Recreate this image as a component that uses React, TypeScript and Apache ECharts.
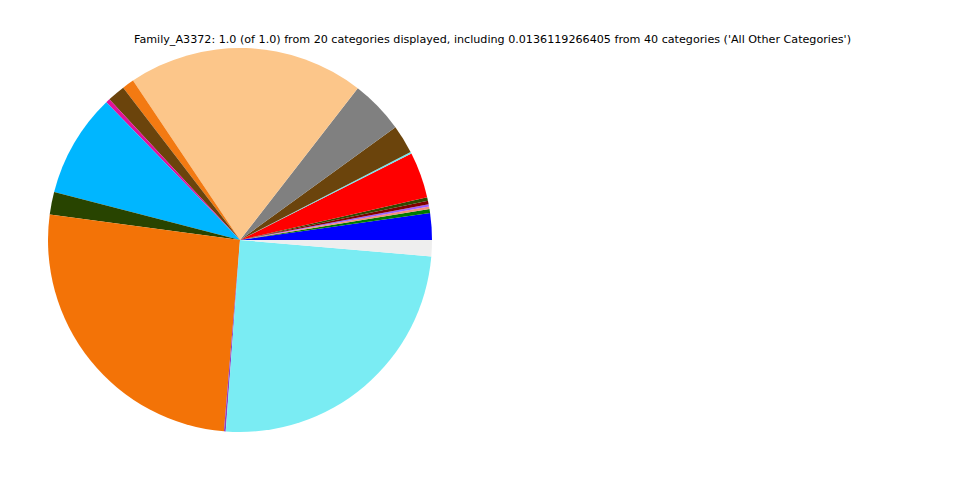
import React, { useEffect, useRef } from "react";
import * as echarts from "echarts";

const titleText =
  "Family_A3372: 1.0 (of 1.0) from 20 categories displayed, including 0.0136119266405 from 40 categories ('All Other Categories')";

const categories = [
  "Category 1", "Category 2", "Category 3", "Category 4", "Category 5",
  "Category 6", "Category 7", "Category 8", "Category 9", "Category 10",
  "Category 11", "Category 12", "Category 13", "Category 14", "Category 15",
  "Category 16", "Category 17", "Category 18", "Category 19", "All Other Categories",
];

const values = [
  0.0225, 0.0033, 0.002, 0.002, 0.003,
  0.003, 0.0385, 0.0015, 0.024, 0.045,
  0.199, 0.010, 0.015, 0.0035, 0.087,
  0.019, 0.2577, 0.0015, 0.248, 0.0136119266405,
];

const colors = [
  "#0000ff", "#007a00", "#f6907a", "#a060ff", "#800000",
  "#2e4a00", "#ff0000", "#72e6f0", "#6b440c", "#808080",
  "#fcc68a", "#f37a12", "#6b440c", "#e0129a", "#00b6ff",
  "#284400", "#f37307", "#9040c0", "#7aecf3", "#eeeeee",
];

export default function App() {
  const ref = useRef<HTMLDivElement>(null);
  useEffect(() => {
    if (!ref.current) return;
    const chart = echarts.init(ref.current, null, { renderer: "svg" });
    chart.setOption({
      animation: false,
      backgroundColor: "#ffffff",
      graphic: [
        {
          type: "text",
          x: 492.5,
          y: 39.5,
          style: {
            text: titleText,
            font: "11.15px 'DejaVu Sans'",
            fill: "#000000",
            align: "center",
            verticalAlign: "middle",
          },
        },
      ],
      series: [
        {
          type: "pie",
          center: [240, 240],
          radius: [0, 192],
          startAngle: 0,
          clockwise: false,
          minAngle: 0,
          avoidLabelOverlap: false,
          label: { show: false },
          labelLine: { show: false },
          emphasis: { disabled: true },
          itemStyle: { borderWidth: 0 },
          data: categories.map((name, i) => ({
            name,
            value: values[i],
            itemStyle: { color: colors[i] },
          })),
        },
      ],
    });
    return () => chart.dispose();
  }, []);
  return (
    <div
      ref={ref}
      style={{ position: "absolute", left: 0, top: 0, width: 960, height: 480 }}
    />
  );
}
